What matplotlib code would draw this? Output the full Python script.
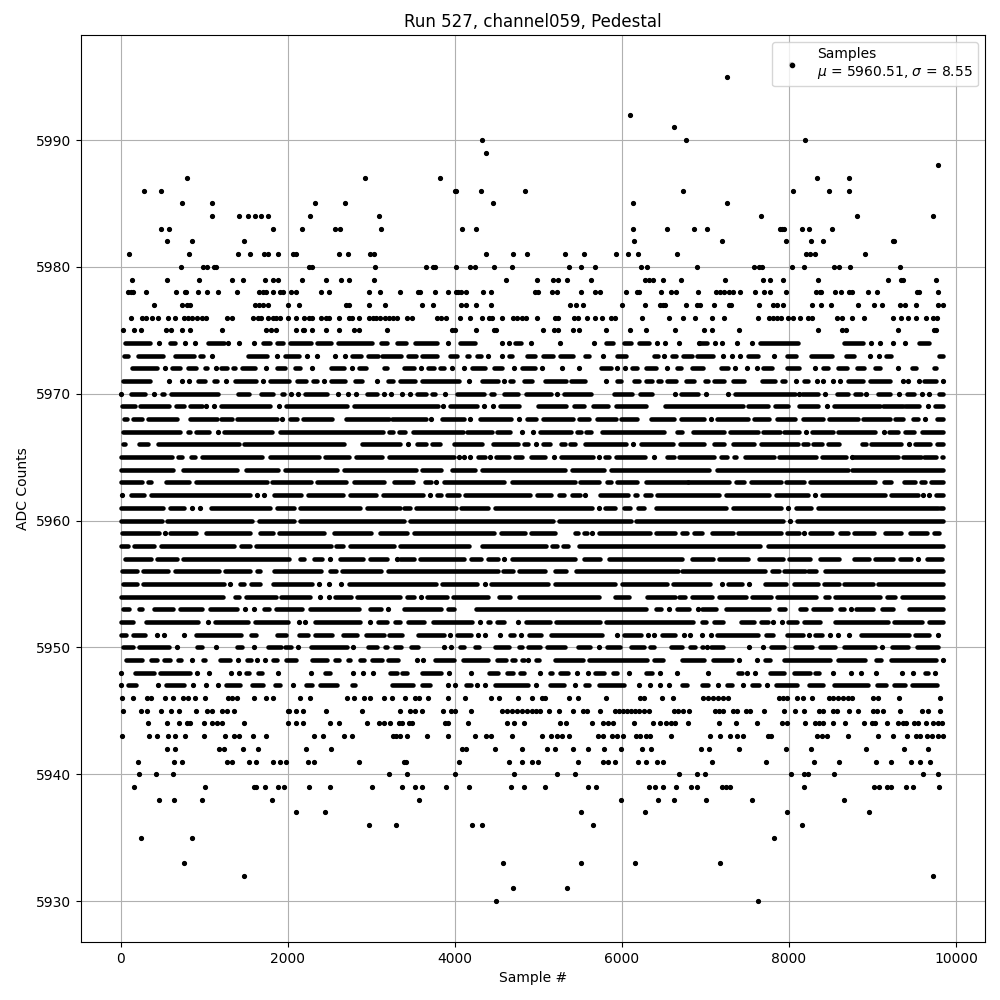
import matplotlib
matplotlib.use("Agg")
import matplotlib.pyplot as plt

# ---- sparse levels: sample numbers ----
L5996=[8030]
L5995=[7260]
L5992=[6100]
L5991=[6620]
L5990=[4330,6770,8190]
L5989=[4380]
L5988=[9780]
L5987=[790,2930,3820,8340,8720]
L5986=[280,490,4000,4020,4310,4840,6730,8050,8480,8720]
L5985=[740,1100,2330,2690,4460,6130,7260]
L5984=[1090,1420,1530,1610,1680,1760,2270,3090,7660,8820,9720]
L5983=[480,580,1830,2170,2570,2630,3120,4090,4260,6130,6540,6860,7020,7890,7920,7940,8160,8240,8520]
L5982=[560,850,1480,6140,7200,7970,8260,8410,9240,9260]
L5981=[100,820,1410,1550,1720,1770,1880,2060,2100,2610,2720,2990,3030,4380,4700,4860,5320,5550,5930,6070,6190,6660,8200,8250,8310,8910]
L5980=[720,990,1040,1120,1140,2250,2290,3050,3660,3740,3760,4020,4180,4240,4470,4690,5370,5510,5680,6230,6300,6900,7580,7640,7680,8040,8180,8540,8600,8730,9330]
L5979=[140,560,940,1330,1470,1730,1820,1890,2170,2460,2640,2740,3030,4610,4980,5180,5240,5340,5630,6280,6330,6370,6490,6710,7230,7690,7770,7930,8350,9190,9340,9370,9760]
L5978=[90,120,150,310,670,770,780,930,1030,1170,1400,1660,1710,1740,1820,1910,1940,2040,2100,2400,2500,2970,3100,3340,3560,3580,3770,3920,4010,4040,4080,4130,4340,4440,4960,5000,5170,5230,5510,5680,5740,6050,6180,6200,6470,6590,6650,6910,7130,7180,7220,7280,7330,7410,7590,7700,7770,7970,8330,8370,8390,8550,8620,8720,8760,8950,9050,9530,9560,9780]
L5977=[400,740,790,830,1610,1660,1710,1770,2000,2140,2700,2730,2980,3170,3610,3740,4080,4130,4250,4430,5380,5450,5530,6000,6280,6460,6490,6520,6770,6900,6940,7100,7280,7310,7640,7810,7860,7930,8280,8390,8500,8830,9020,9120,9330,9390,9520,9790,9840]
L5976=[120,260,310,380,450,570,650,760,810,860,910,980,1020,1280,1340,1590,1640,1680,1760,1820,1860,1910,2000,2100,2200,2250,2290,2400,2460,2500,2610,2740,2770,2860,2970,3020,3060,3110,3170,3210,3260,3310,3430,3490,3790,3840,3890,4060,4180,4330,4410,4450,4570,4700,4740,4800,4850,4980,5200,5240,5430,5470,5580,5680,5760,5870,5920,6240,6560,6730,6870,7080,7220,7630,7760,7810,7860,7910,7990,8050,8130,8230,8280,8580,8630,8760,8900,9250,9340,9420,9520,9640,9730,9770]
L5975=[30,160,250,550,610,740,830,1220,1740,1800,1860,2100,2180,2200,2290,2460,2620,2790,2860,3190,3970,4000,4250,4470,4490,5060,5190,5240,5420,5490,5810,6100,6290,6640,6980,7080,7400,8350,8630,8680,9300,9740,9760]
L5946=[20,150,320,360,530,630,750,810,890,1010,1290,1340,1400,1600,1740,1830,2150,2270,2710,2800,2910,2990,3150,3250,3410,3520,3570,3680,3920,4120,4430,4530,4760,4920,5040,5080,5370,5470,5810,6220,6270,6480,6610,6970,7030,7090,7150,7210,7270,7880,7930,7980,8100,8170,8280,8480,8530,8590,8650,8710,8760,9010,9070,9320,9810]
L5945=[30,240,320,480,610,700,900,1040,1100,1220,1280,1360,2000,2020,2100,2190,2460,2890,3350,3470,3520,3610,3860,3960,4000,4200,4560,4630,4690,4740,4810,4870,4920,4970,5020,5130,5250,5420,5540,5580,5740,5920,5970,6010,6060,6110,6160,6210,6260,6320,6620,6670,6730,6800,7110,7160,7210,7330,7380,7490,7540,7700,7940,8070,8180,8360,8410,8530,8570,8720,8830,9010,9060,9130,9330,9590,9670,9810]
L5944=[330,560,700,800,830,1000,1100,1160,1220,1480,2000,2100,2190,2510,2620,2950,3090,3150,3220,3330,3370,3450,3490,3880,3920,4160,4620,4710,4830,5260,5330,5640,5770,5830,5890,6140,6370,6460,6530,6590,6640,6790,7160,7370,7620,7920,7980,8190,8310,8360,8410,8530,8670,8900,8990,9030,9180,9310,9360,9400,9500,9550,9640,9730,9790,9830]
L5943=[20,340,440,570,650,770,1000,1250,1360,1420,1590,1740,2310,2420,2680,2770,3260,3300,3350,3430,3670,3920,4240,4370,4430,4690,5050,5150,5230,5280,5370,5710,5770,5880,5940,6010,6170,6220,6290,6340,6590,7050,7180,7300,7380,7450,7750,7790,8340,8400,8460,8710,9070,9240,9410,9520,9570,9650,9710,9780,9840]
L5942=[560,650,1180,1240,1460,1640,2220,2520,4090,4130,4480,4810,5110,5200,5410,5590,5790,5990,6240,6350,6950,7040,7400,7960,8260,8920,9380,9670]
L5941=[210,640,730,1270,1340,1540,1620,1820,1910,1980,2240,2320,2860,3390,3420,4050,4650,4810,4920,5000,5470,5770,5830,5920,6190,6290,6420,6490,7080,7720,8300,8600,9040,9220,9460,9570,9690]
L5940=[220,430,630,3210,3430,4000,4710,5220,5440,6680,6900,6990,8020,8180,8230,8540,9610,9790]
L5939=[160,1010,1600,1620,1730,1890,1960,2260,2510,3010,3370,3530,3610,3900,4170,4670,4830,5080,5590,5690,6330,6400,6490,6650,6830,6900,7200,7250,7290,8180,9020,9080,9170,9220,9400,9490,9800]
L5938=[460,640,970,1810,3570,5990,6430,6620,7010,7560,8660]
L5937=[2100,2450,5510,6280,7980,8960]
L5936=[2970,3300,4210,4330,5650,8160]
L5935=[240,850,7820]
L5933=[760,4580,5510,6160,7170]
L5932=[1480,9730]
L5931=[4700,5340]
L5930=[4490,7630]

sparse_levels=[(5996,L5996),(5995,L5995),(5992,L5992),(5991,L5991),(5990,L5990),(5989,L5989),(5988,L5988),(5987,L5987),(5986,L5986),(5985,L5985),(5984,L5984),(5983,L5983),(5982,L5982),(5981,L5981),(5980,L5980),(5979,L5979),(5978,L5978),(5977,L5977),(5976,L5976),(5975,L5975),(5946,L5946),(5945,L5945),(5944,L5944),(5943,L5943),(5942,L5942),(5941,L5941),(5940,L5940),(5939,L5939),(5938,L5938),(5937,L5937),(5936,L5936),(5935,L5935),(5933,L5933),(5932,L5932),(5931,L5931),(5930,L5930)]

# ---- dense levels: unbroken runs of samples (first,last), or a lone sample ----
R5974=[(50,350),460,(590,650),770,890,(1045,1240),1290,1420,1600,(1710,1790),(1870,1950),(2030,2280),(2350,2515),(2600,3015),(3115,3190),(3305,3420),(3530,3790),3920,(4065,4245),4570,4650,(4725,4795),4910,5255,5670,(5805,5895),(6030,6115),(6205,6325),6420,6520,6680,6920,(6930,7025),7110,7200,7380,7560,(7655,8105),(8665,8885),8985,9095,9240,9395,(9555,9673)]
R5973=[(45,85),(213,507),(653,875),(957,987),1090,(1525,1755),1870,(1965,2135),2230,2350,2570,2690,(2773,2875),(2967,3083),(3125,3355),(3445,3535),(3613,3787),(3945,4027),(4149,4175),(4269,4315),4400,4560,(4653,4683),(4869,4955),(5061,5175),(5265,5415),(5557,5603),5770,(5941,6051),(6381,6435),6500,(6605,6643),(6737,6835),(6905,7090),7210,7315,7415,(7515,7633),7820,(7975,8085),(8267,8517),(8683,8785),8975,9075,(9163,9217),(9800,9840)]
R5972=[(137,435),535,(613,707),(813,907),(1013,1035),1140,(1205,1275),(1349,1375),(1453,1615),1736,(1877,1963),(2085,2147),2290,(2517,2675),2772,(2853,2935),(3153,3195),(3397,3515),3600,(3677,3747),(3825,3875),3968,4112,(4205,4367),(4465,4563),4712,(4805,4955),5048,5280,5492,(5745,5875),5940,6040,(6125,6179),(6293,6415),6536,(6665,6707),(6845,6973),(7187,7265),7358,7498,7618,(7695,7793),(7975,8125),8318,(8403,8465),(8587,8693),(8817,8893),(9035,9085),9310,(9475,9517),(9735,9757)]
R5971=[(29,347),584,732,820,(933,1015),(1113,1155),1268,(1365,1623),1700,(1785,2015),(2113,2223),(2301,2355),2432,(2517,2687),(2805,2895),3064,(3197,3267),(3340,3523),(3605,4055),4172,(4325,4515),4592,(4661,4695),(4833,4923),(5085,5327),(5397,5563),5816,(5937,5993),(6145,6203),(6285,6363),(6437,6475),(6545,6643),(6765,6867),(6995,7037),(7107,7225),(7327,7457),(7675,7829),(7915,7955),8082,(8179,8225),8338,8410,8522,8610,(8707,8885),(8975,9205),9362,9430,9562,(9617,9761),9840]
R5970=[8,(125,295),400,(493,521),(605,1163),(1405,1535),(1677,1827),(1929,1955),2040,2128,(2205,2467),2608,2720,2824,(2945,3067),3148,3240,3368,3460,(3545,3655),(3729,3767),3888,(4025,4347),(4437,4467),(4585,4755),(4857,5155),5228,(5313,5635),(5909,6123),(6221,6363),6632,(6705,6915),7006,7270,(7355,8073),8122,(8157,8345),8426,(8575,8705),(8787,8865),8926,(9067,9205),9322,(9415,9497),9590,9682,(9795,9840)]
R5969=[(17,175),(237,575),(669,763),(837,975),1028,1116,(1197,1795),1892,(1985,2707),(2793,3803),3860,(3941,4267),4348,4460,(4537,4775),(4997,5335),(5433,5547),(5657,5835),(5925,6295),(6517,7445),(7505,7745),(7835,7985),(8115,8353),8450,(8543,9085),(9125,9365),(9385,9553),9670,(9747,9840)]
R5968=[(45,75),(153,255),(325,675),(837,1155),(1205,1335),(1397,1875),1932,(2029,2115),(2189,2535),(2693,3215),(3245,3655),3716,(3845,4115),4184,(4297,4675),4772,(4869,4975),(5053,5415),(5493,5607),(5705,5935),(5993,6183),(6353,6627),(6709,6985),7070,(7135,7505),(7579,7765),(7855,8073),(8163,8405),(8479,8825),(8891,9205),(9275,9365),(9483,9545),9630,(9775,9840)]
R5967=[(25,715),(807,827),(905,1063),1172,(1233,1815),(1913,3147),(3213,3267),(3333,3403),(3497,4095),(4153,4443),(4505,4663),4804,4936,(5025,5395),(5465,5515),(5577,5635),(5765,6507),(6657,6723),(6857,7225),(7295,7625),(7695,7897),(7945,8125),8210,(8275,8525),(8587,9033),9134,(9203,9305),(9395,9497),(9587,9840)]
R5966=[(25,57),(225,323),(453,1415),(1477,2675),(2885,3345),3436,(3545,3655),(3725,3825),(3989,4323),(4457,4755),(4833,4883),4968,(5057,5135),(5277,5323),(5385,5435),(5565,6051),6128,(6225,6615),(6693,6983),(7103,7225),(7327,7577),(7663,8105),(8171,8225),(8287,8393),(8463,8605),(8875,8917),(8985,9337),9442,(9515,9685),(9767,9840)]
R5965=[(5,615),(693,739),(845,895),(977,1695),(1785,2375),(2453,2735),(2813,3135),(3217,3987),4052,4108,4188,(4277,4363),4428,(4497,4647),(4725,4807),(4917,5075),5188,(5277,5655),5728,(5793,5847),(5925,6275),6388,(6545,6627),(6685,7105),(7187,7257),(7339,7369),(7475,7817),(7883,8325),(8395,8685),8750,(8785,9305),(9367,9577),(9617,9765),(9827,9840)]
R5964=[(0,627),(745,1395),(1497,1887),(1965,2595),(2677,3535),(3605,3835),(3965,4243),(4325,5315),(5405,5783),(5865,7045),(7135,8705),(8757,9840)]
R5963=[(3,255),(329,363),(545,815),(905,1755),(1817,2275),(2357,2695),(2793,3155),(3273,3503),(3645,3715),3780,(3873,4587),(4685,5435),(5505,5727),(5821,5867),(5945,6183),(6285,6795),(6797,7287),(7363,7457),(7543,7905),(7961,8177),(8255,9033),(9143,9217),(9383,9505),(9575,9633),(9703,9840)]
R5962=[16,(125,287),(365,1547),1628,1720,(1833,2163),(2245,2667),(2745,3055),(3137,3615),3700,(3785,3835),(3909,4055),(4125,4907),(4985,5147),(5253,5307),(5405,5495),5564,(5733,6075),(6153,6187),(6273,6355),(6425,7165),(7243,7765),(7843,8233),8318,(8395,9145),(9225,9545),9602,9678,(9755,9840)]
R5961=[(0,510),(593,763),860,948,(1085,1795),(1877,2075),(2153,2867),(2953,3340),(3397,3459),(3533,4015),(4077,4393),(4477,5643),5724,(5793,5915),(6021,6095),(6197,6267),(6405,7253),(7327,7905),7990,(8083,8265),(8345,9785),(9803,9840)]
R5960=[(5,495),(557,1575),(1657,2075),(2153,3395),(3461,5175),(5249,6115),(6173,7925),8018,(8095,9840)]
R5959=[(13,455),532,(597,903),(1025,1555),(1673,1823),(1897,2435),(2557,2995),(3105,3423),(3513,4467),(4549,4847),(4917,5203),(5437,5475),(5545,5583),5648,(5725,6335),(6413,6635),(6717,6779),(6869,6965),(7083,7325),(7395,7905),(7975,8117),8182,(8247,8513),(8615,8705),(8783,9017),(9147,9337),(9455,9657),(9735,9797)]
R5958=[(0,85),(165,403),(485,1355),(1437,1547),(1625,2515),(2585,2667),(2745,3275),(3340,4175),(4325,5095),(5165,5223),(5297,5355),(5485,7657),(7745,9840)]
R5957=[(53,367),(433,675),(753,2015),(2153,2195),(2313,2407),2504,(2629,2907),(2985,3195),3308,(3340,3515),(3585,4115),(4197,4315),(4397,4523),4592,(4685,5435),(5545,5735),(5845,6723),(6837,7097),(7167,7505),(7637,7935),(8007,8257),(8375,8597),(8783,8957),(9027,9245),(9335,9457),9550,(9655,9833)]
R5956=[(13,195),(265,567),(653,1175),(1245,1547),(1629,1675),(1837,2395),(2505,2575),(2645,3115),(3205,4515),(4577,4695),(4773,5075),(5197,5327),(5453,6667),(6725,7715),(7795,7877),(7943,8187),(8227,8327),(8435,9840)]
R5955=[(33,203),(273,1235),1312,(1425,1475),(1565,1675),(1825,2295),2380,2492,2640,(2733,3775),(3845,4263),4364,(4437,5115),(5197,5915),(6005,6535),(6617,7057),7202,(7267,7437),7518,(7715,7969),(8059,8345),(8419,8605),(8663,9005),(9063,9840)]
R5954=[(0,1223),(1369,1415),(1497,1855),(1925,2263),2388,2492,(2565,2755),(2825,3340),(3425,3507),3592,(3665,3907),(3977,4403),(4525,4659),(4773,5723),(5913,6083),(6305,6635),(6685,6755),(6845,7085),(7163,7485),(7563,7785),(7863,8325),(8427,8477),(8555,9093),(9175,9265),(9355,9840)]
R5953=[(33,103),(225,263),(405,627),(717,975),(1073,1395),1488,1600,(1717,1775),(1865,2175),(2265,2855),(2985,3115),3200,(3397,3835),(3925,3995),(4253,6295),(6413,6475),6564,(6665,6803),6912,(6955,7125),(7243,7765),(7883,7953),(8135,8205),(8283,8505),(8615,8657),8738,(8803,9005),(9115,9243),(9435,9840)]
R5952=[(5,155),(305,923),1048,(1125,1523),(1613,2007),2132,2212,(2325,2867),2984,(3085,3195),(3285,3340),(3437,3635),(3745,4203),4300,(4397,4423),(4505,4587),4760,(4853,5135),(5213,5735),(5813,6855),(6955,7005),(7103,7217),(7423,7585),(7667,7745),7810,7914,(7987,8097),(8179,8377),(8555,9185),(9263,9593),(9677,9840)]
R5951=[(0,67),(153,295),440,524,764,(905,1443),(1557,1627),(1877,1983),(2133,2243),(2333,2535),(2665,2835),(2933,3155),(3213,3364),(3557,3867),3944,(4025,4195),4280,4364,4544,(4665,4715),4796,(4885,5035),(5157,5763),5940,(6021,6227),6312,6380,(6477,6635),6744,6812,6958,7062,(7135,7625),(7723,7805),(7975,8165),8242,(8315,8393),8494,8590,8718,(8865,9433),(9505,9677),9790]
R5950=[(29,147),(225,575),680,(917,975),1140,(1397,1455),1592,(1765,1915),(1965,2035),2128,(2285,2715),2780,(2965,3067),(3165,3195),(3285,3360),(3477,3563),3868,3960,(4065,4107),(4245,4287),(4485,4655),(4765,4803),(4877,5015),(5105,5323),(5477,5615),5728,(5825,5975),(6105,6267),(6333,6387),(6585,6715),(6813,6877),(6955,6975),7018,(7067,7217),7518,7690,(7787,7937),(8077,8273),(8375,8553),(8663,9033),9118,(9235,9425),(9535,9785)]
R5949=[(65,255),(365,435),(525,595),(693,723),852,(985,1015),(1185,1315),1408,(1513,1563),1628,1724,(1825,1875),(1985,2095),(2297,2475),(2573,2615),(2717,2747),(2865,2915),(3005,3135),(3205,3327),3552,3620,(3765,3995),(4105,4395),(4505,4615),(4685,4727),(4805,4827),4880,(4977,5004),(5197,5539),(5609,6307),(6389,6487),(6717,6979),(7089,7315),7404,7620,(7717,7779),(7945,8487),(8589,8907),(9037,9107),(9217,9755),9840]
R5948=[8,(173,395),(477,835),910,1064,1320,1424,(1497,1539),(1645,1699),1884,2276,(2445,2503),(2705,2715),2780,2900,3024,(3225,3307),(3373,3423),(3605,3835),3932,4200,(4413,4515),(4625,4695),(4785,4835),5016,(5137,5167),(5257,5359),5460,5596,(5685,5787),(5897,5939),6084,(6289,6367),6456,6660,7032,(7389,7435),7500,7596,(7777,7939),(8057,8247),(8317,8355),8532,8748,8868,9048,9352,9480,(9625,9667),9744]
R5947=[0,(93,187),452,(545,763),872,1028,1172,(1257,1435),(1573,1707),(1845,1907),2064,(2217,2295),(2393,2595),(2765,2803),(3245,3495),(3605,3703),3920,4008,(4133,4195),4268,4360,(4477,4875),4972,(5137,5307),5436,(5557,5607),(5725,6027),6208,6332,6456,6564,(6725,6779),(6957,7027),7156,(7257,7315),7452,(7557,7647),7740,(7845,8099),(8237,8407),(8537,8947),(9057,9167),(9257,9387),(9477,9767)]

dense_levels=[(5974,R5974),(5973,R5973),(5972,R5972),(5971,R5971),(5970,R5970),(5969,R5969),(5968,R5968),(5967,R5967),(5966,R5966),(5965,R5965),(5964,R5964),(5963,R5963),(5962,R5962),(5961,R5961),(5960,R5960),(5959,R5959),(5958,R5958),(5957,R5957),(5956,R5956),(5955,R5955),(5954,R5954),(5953,R5953),(5952,R5952),(5951,R5951),(5950,R5950),(5949,R5949),(5948,R5948),(5947,R5947)]

title_text="Run 527, channel059, Pedestal"
legend_text="Samples\n$\\mu$ = 5960.51, $\\sigma$ = 8.55"

fig=plt.figure(figsize=(10,10),dpi=100)
ax=fig.add_axes([0.0805,0.058,0.9045,0.907])

for level,xs in sparse_levels:
    ax.plot(xs,[level]*len(xs),'k.',ms=5.5,zorder=3)
for level,items in dense_levels:
    singles=[i for i in items if not isinstance(i,tuple)]
    runs=[i for i in items if isinstance(i,tuple)]
    if singles:
        ax.plot(singles,[level]*len(singles),'k.',ms=5.5,zorder=3)
    for first,last in runs:
        ax.plot([first,last],[level,level],color='k',lw=3.3,solid_capstyle='round',zorder=3)

handle,=ax.plot([],[],'k.',label=legend_text)
ax.set_xlim(-479,10347)
ax.set_ylim(5926.77,5998.28)
ax.set_xticks([0,2000,4000,6000,8000,10000])
ax.set_yticks(range(5930,5991,10))
ax.grid(True)
ax.set_title(title_text)
ax.set_xlabel("Sample #")
ax.set_ylabel("ADC Counts")
ax.legend(handles=[handle],loc='upper right')
fig.savefig("out.png",dpi=100)
